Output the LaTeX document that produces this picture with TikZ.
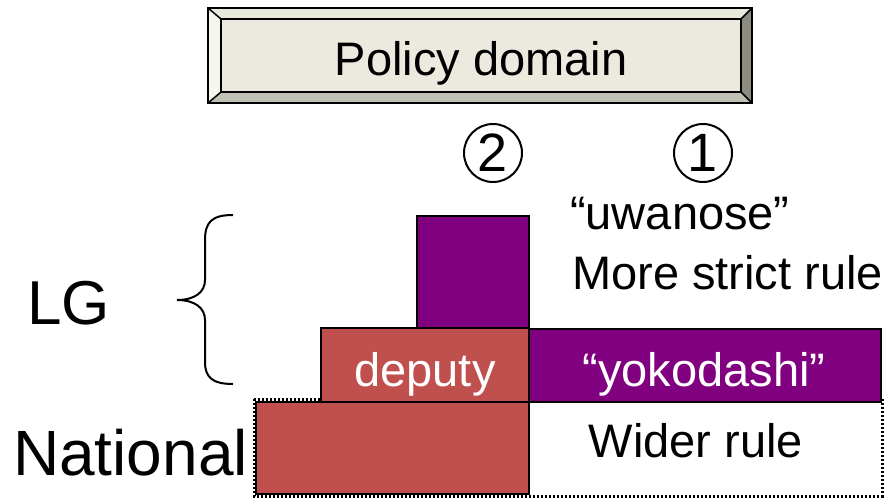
\documentclass[tikz,border=0pt]{standalone}
\usepackage{fontspec}
\setmainfont{Liberation Sans}
\definecolor{purp}{HTML}{800080}
\definecolor{redb}{HTML}{C0504D}
\definecolor{bfill}{HTML}{ECE9DE}
\definecolor{btop}{HTML}{E8E8DC}
\definecolor{bleft}{HTML}{F6F6EE}
\definecolor{bbot}{HTML}{C0C0B4}
\definecolor{bright}{HTML}{8C8C80}
\tikzset{
  txt/.style={inner sep=0pt, font=\fontsize{47}{56}\selectfont},
  big/.style={inner sep=0pt, font=\fontsize{62}{74}\selectfont},
  blk/.style={draw=black, line width=2pt},
  num/.style={circle, draw=black, line width=2pt, minimum size=58pt, inner sep=0pt, font=\fontsize{54}{60}\selectfont}
}
\begin{document}
\begin{tikzpicture}[x=1pt,y=-1pt]
\useasboundingbox (0,0) rectangle (893,501);
% Policy domain bevel box
\fill[btop] (208,8) -- (752,8) -- (741,19) -- (221,19) -- cycle;
\fill[bleft] (208,8) -- (221,19) -- (221,92) -- (208,103) -- cycle;
\fill[bbot] (208,103) -- (221,92) -- (741,92) -- (752,103) -- cycle;
\fill[bright] (752,8) -- (752,103) -- (741,92) -- (741,19) -- cycle;
\fill[bfill] (221,19) rectangle (741,92);
\draw[line width=2pt] (208,8) rectangle (752,103);
\draw[line width=2pt] (221,19) rectangle (741,92);
\draw[line width=1.5pt] (208,8) -- (221,19) (752,8) -- (741,19) (208,103) -- (221,92) (752,103) -- (741,92);
\node[txt, anchor=base] (pd) at (481,75) {Policy domain};
% circled numbers
\node[num] (n2) at (493,153) {2};
\node[num] (n1) at (703,153) {1};
% National dashed frame
\fill[white] (254,399) rectangle (882,496);
\draw[line width=3pt, dash pattern=on 2pt off 2pt] (254,399) rectangle (882,496);
% bars
\draw[blk, fill=redb] (256,402) rectangle (529,494);
\draw[blk, fill=purp] (417,216) rectangle (529,328);
\draw[blk, fill=redb] (321,328) rectangle (529,402);
\draw[blk, fill=purp] (529,329) rectangle (881,402);
\node[txt, text=white, anchor=base] (dep) at (425,386) {deputy};
\node[txt, text=white, anchor=base] (yoko) at (704,386) {“yokodashi”};
\node[txt, anchor=base] (wider) at (696,457) {Wider rule};
\node[txt, anchor=base west] (uwa) at (570,229) {“uwanose”};
\node[txt, anchor=base west] (strict) at (572,289) {More strict rule};
\node[big, anchor=base west] (lg) at (27,324) {LG};
\node[big, anchor=base west, font=\fontsize{64}{76}\selectfont] (nat) at (13,475) {National};
% brace
\draw[line width=2pt] (233,215) .. controls (212,215) and (205,222) .. (205,240) -- (205,280) .. controls (205,292) and (195,300) .. (177,300) .. controls (195,300) and (205,308) .. (205,320) -- (205,362) .. controls (205,377) and (212,384) .. (233,384);
\end{tikzpicture}
\end{document}
